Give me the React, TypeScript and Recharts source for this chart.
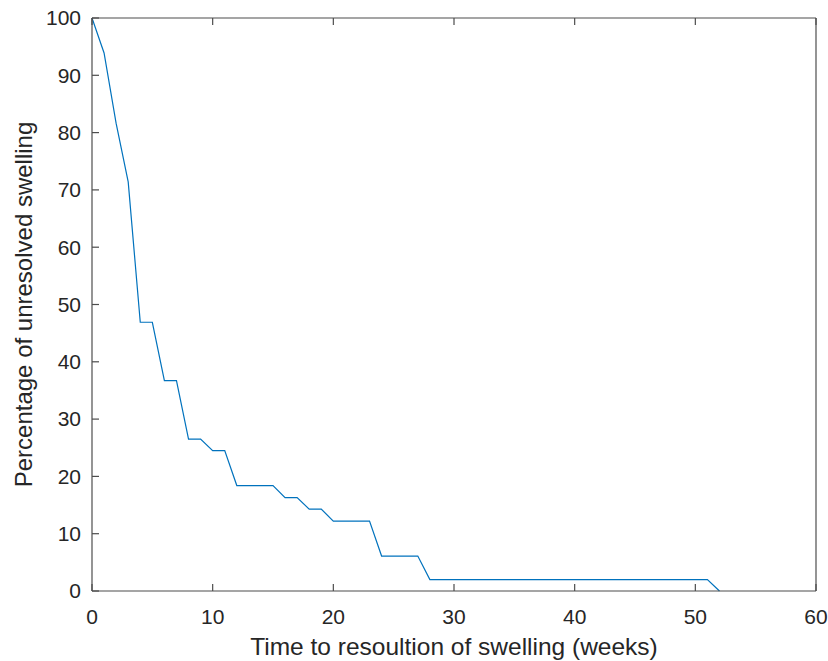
import React from "react";
import { Label, Line, LineChart, XAxis, YAxis } from "recharts";

// Kaplan-Meier style curve
const weeks = [0, 1, 2, 3, 4, 5, 6, 7, 8, 9, 10, 11, 12, 15, 16, 17, 18, 19, 20, 23, 24, 27, 28, 51, 52];
const unresolved = [
  100, 93.9, 81.6, 71.4, 46.9, 46.9, 36.7, 36.7, 26.5, 26.5, 24.5, 24.5, 18.4, 18.4, 16.3, 16.3,
  14.3, 14.3, 12.2, 12.2, 6.1, 6.1, 2.0, 2.0, 0,
];
const xTicks = [0, 10, 20, 30, 40, 50, 60];
const yTicks = [0, 10, 20, 30, 40, 50, 60, 70, 80, 90, 100];

const data = weeks.map((w, i) => ({ week: w, pct: unresolved[i] }));

const axisColor = "#4d4d4d";
const textColor = "#262626";
const font = "'Liberation Sans', Arial, Helvetica, sans-serif";
const TICK = 7;
const TW = 1.2;
const X_GAP = 18;
const Y_GAP = 11;

// MATLAB-like ticks: short marks pointing into the plot
const BottomTick = (props: any) => {
  const x = Number(props.x);
  const y = Number(props.y);
  const axisY = y - X_GAP;
  return (
    <g>
      <rect x={x - TW / 2} y={axisY - TICK} width={TW} height={TICK} fill={axisColor} />
      <text x={x} y={y} dy="0.71em" textAnchor="middle" fill={textColor} fontSize={21} fontFamily={font}>
        {props.payload.value}
      </text>
    </g>
  );
};

const TopTick = (props: any) => {
  const x = Number(props.x);
  const y = Number(props.y);
  return <rect x={x - TW / 2} y={y} width={TW} height={TICK} fill={axisColor} />;
};

const LeftTick = (props: any) => {
  const x = Number(props.x);
  const y = Number(props.y);
  const axisX = x + Y_GAP;
  return (
    <g>
      <rect x={axisX} y={y - TW / 2} width={TICK} height={TW} fill={axisColor} />
      <text x={x} y={y} dy="0.35em" textAnchor="end" fill={textColor} fontSize={21} fontFamily={font}>
        {props.payload.value}
      </text>
    </g>
  );
};

const RightTick = (props: any) => {
  const x = Number(props.x);
  const y = Number(props.y);
  return <rect x={x - TICK} y={y - TW / 2} width={TICK} height={TW} fill={axisColor} />;
};

const App = () => {
  return (
    <div
      style={{
        position: "absolute",
        left: 0,
        top: 0,
        width: 828,
        height: 661,
        background: "#fff",
        fontFamily: font,
      }}
    >
      <LineChart
        width={828}
        height={661}
        data={data}
        margin={{ top: 17, right: 11, bottom: 0, left: 0 }}
      >
        <XAxis
          dataKey="week"
          type="number"
          domain={[0, 60]}
          ticks={xTicks}
          height={70}
          tickSize={0}
          tickMargin={X_GAP}
          tickLine={false}
          stroke={axisColor}
          strokeWidth={1.2}
          tick={<BottomTick />}
        >
          <Label
            value="Time to resoultion of swelling (weeks)"
            position="insideBottom"
            offset={6}
            style={{ fill: textColor, fontSize: 24.5, fontFamily: font }}
          />
        </XAxis>
        <XAxis
          xAxisId="top"
          orientation="top"
          dataKey="week"
          type="number"
          domain={[0, 60]}
          ticks={xTicks}
          height={1}
          tickSize={0}
          tickMargin={0}
          tickLine={false}
          stroke={axisColor}
          strokeWidth={1.2}
          tick={<TopTick />}
        />
        <YAxis
          type="number"
          domain={[0, 100]}
          ticks={yTicks}
          width={92}
          tickSize={0}
          tickMargin={Y_GAP}
          tickLine={false}
          stroke={axisColor}
          strokeWidth={1.2}
          tick={<LeftTick />}
          label={{
            content: (props: any) => {
              const vb = props.viewBox;
              const cx = 23;
              const cy = vb.y + vb.height / 2;
              return (
                <text
                  x={cx}
                  y={cy}
                  transform={`rotate(-90 ${cx} ${cy})`}
                  textAnchor="middle"
                  dominantBaseline="central"
                  fill={textColor}
                  fontSize={24}
                  fontFamily={font}
                >
                  Percentage of unresolved swelling
                </text>
              );
            },
          }}
        />
        <YAxis
          yAxisId="right"
          orientation="right"
          type="number"
          domain={[0, 100]}
          ticks={yTicks}
          width={1}
          tickSize={0}
          tickMargin={0}
          tickLine={false}
          stroke={axisColor}
          strokeWidth={1.2}
          tick={<RightTick />}
        />
        <Line
          type="linear"
          dataKey="pct"
          stroke="#0072BD"
          strokeWidth={1.2}
          dot={false}
          isAnimationActive={false}
        />
      </LineChart>
    </div>
  );
};

export default App;
